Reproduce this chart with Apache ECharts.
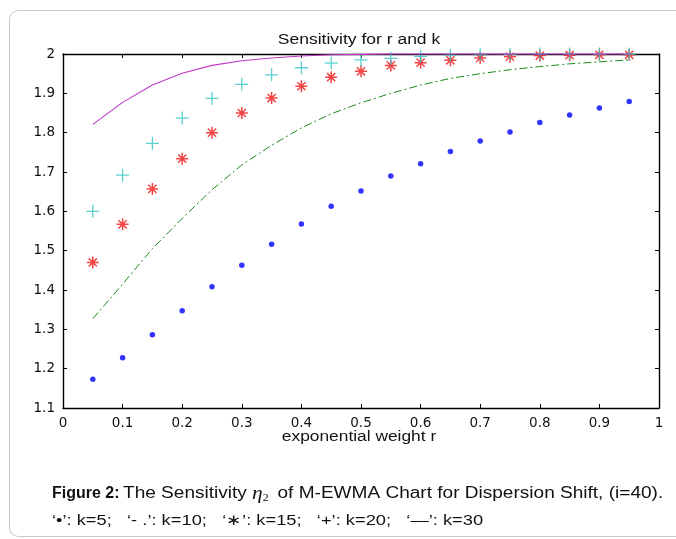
<!DOCTYPE html>
<html>
<head>
<meta charset="utf-8">
<script src="https://cdn.jsdelivr.net/npm/echarts@6/dist/echarts.min.js"></script>
<style>
  html, body { margin: 0; padding: 0; background: #ffffff; }
  #chart { width: 676px; height: 539px; }
</style>
</head>
<body>
<div id="chart"></div>
<script>
// exponential weight r
const rValues = [0.05, 0.10, 0.15, 0.20, 0.25, 0.30, 0.35, 0.40, 0.45, 0.50,
                 0.55, 0.60, 0.65, 0.70, 0.75, 0.80, 0.85, 0.90, 0.95];

// sensitivity eta_2 for each window size k
const sensK5  = [1.173, 1.228, 1.286, 1.347, 1.408, 1.463, 1.516, 1.568, 1.613, 1.652,
                 1.690, 1.721, 1.752, 1.779, 1.802, 1.826, 1.845, 1.863, 1.879];
const sensK10 = [1.327, 1.415, 1.505, 1.582, 1.655, 1.718, 1.768, 1.812, 1.848, 1.876,
                 1.900, 1.921, 1.938, 1.950, 1.960, 1.968, 1.975, 1.980, 1.985];
const sensK15 = [1.470, 1.567, 1.657, 1.734, 1.800, 1.850, 1.888, 1.918, 1.941, 1.956,
                 1.971, 1.978, 1.984, 1.990, 1.993, 1.996, 1.997, 1.998, 1.998];
const sensK20 = [1.600, 1.692, 1.773, 1.837, 1.887, 1.923, 1.947, 1.965, 1.977, 1.985,
                 1.989, 1.994, 1.997, 1.998, 1.999, 2.000, 2.000, 2.000, 2.000];
const sensK30 = [1.821, 1.877, 1.921, 1.951, 1.971, 1.983, 1.990, 1.995, 1.998, 1.999,
                 2.000, 2.000, 2.000, 2.000, 2.000, 2.000, 2.000, 2.000, 2.000];

// axis ranges / tick steps
const xRange = [0, 1, 0.1];
const yRange = [1.1, 2, 0.1];

// texts
const titleText = 'Sensitivity for r and k';
const xAxisTitle = 'exponential weight r';
const captionLead = 'Figure 2:';
const captionBody = 'The Sensitivity {eta|η}{sub|2} of M-EWMA Chart for Dispersion Shift, (i=40).';
const captionKey = '‘•’: k=5;   ‘- .’: k=10;   ‘∗’: k=15;   ‘+’: k=20;   ‘—’: k=30';

const pairs = ys => rValues.map((r, i) => [r, ys[i]]);

const FONT = 'Liberation Sans, Arial, sans-serif';
const TICK_FONT = 'DejaVu Sans, sans-serif';
const SERIF = 'Liberation Serif, DejaVu Serif, serif';
const ASTERISK = 'path://M5,0L5,10M0,5L10,5M1.6,1.6L8.4,8.4M1.6,8.4L8.4,1.6';
const PLUS = 'path://M5,0L5,10M0,5L10,5';

const fmtTick = v => String(Math.round(v * 10) / 10);

const axisBase = {
  type: 'value',
  splitLine: { show: false },
  axisLine: { show: true, onZero: false, lineStyle: { color: '#000', width: 1.4 } },
  axisTick: { show: true, inside: true, length: 4, lineStyle: { color: '#000', width: 1 } },
};

const chart = echarts.init(document.getElementById('chart'), null, { renderer: 'canvas' });

chart.setOption({
  animation: false,
  backgroundColor: '#ffffff',
  grid: { left: 63, right: 17, top: 54, bottom: 131 },
  xAxis: [
    Object.assign({}, axisBase, {
      position: 'bottom', min: xRange[0], max: xRange[1], interval: xRange[2],
      axisLabel: { show: true, margin: 8, fontFamily: TICK_FONT, fontSize: 13.5, color: '#111', formatter: fmtTick }
    }),
    Object.assign({}, axisBase, {
      position: 'top', min: xRange[0], max: xRange[1], interval: xRange[2],
      axisLabel: { show: false }
    })
  ],
  yAxis: [
    Object.assign({}, axisBase, {
      position: 'left', min: yRange[0], max: yRange[1], interval: yRange[2],
      axisLabel: { show: true, margin: 8, fontFamily: TICK_FONT, fontSize: 13.5, color: '#111', formatter: fmtTick }
    }),
    Object.assign({}, axisBase, {
      position: 'right', min: yRange[0], max: yRange[1], interval: yRange[2],
      axisLabel: { show: false }
    })
  ],
  series: [
    {
      name: 'k=5', type: 'scatter', data: pairs(sensK5), clip: false,
      symbol: 'circle', symbolSize: 5.5,
      itemStyle: { color: '#0000ff' }
    },
    {
      name: 'k=10', type: 'line', data: pairs(sensK10), clip: false,
      showSymbol: false, smooth: false,
      lineStyle: { color: '#1c8a1c', width: 1, type: [8, 3, 2, 3] }
    },
    {
      name: 'k=15', type: 'scatter', data: pairs(sensK15), clip: false,
      symbol: ASTERISK, symbolSize: 12,
      itemStyle: { color: 'none', borderColor: '#f41414', borderWidth: 1.5 }
    },
    {
      name: 'k=20', type: 'scatter', data: pairs(sensK20), clip: false,
      symbol: PLUS, symbolSize: 13,
      itemStyle: { color: 'none', borderColor: '#33c4c4', borderWidth: 1.3 }
    },
    {
      name: 'k=30', type: 'line', data: pairs(sensK30), clip: false,
      showSymbol: false, smooth: false,
      lineStyle: { color: '#c038c8', width: 1.1 }
    }
  ],
  graphic: [
    {
      type: 'rect', silent: true, z: -10,
      shape: { x: 9.5, y: 10.5, width: 700, height: 526, r: 9 },
      style: { fill: 'none', stroke: '#c8c8c8', lineWidth: 1 }
    },
    {
      type: 'text', x: 359, y: 40, scaleX: 1.25, silent: true,
      style: { text: titleText, fontFamily: FONT, fontSize: 14, fill: '#111', align: 'center', verticalAlign: 'middle' }
    },
    {
      type: 'text', x: 359, y: 437, scaleX: 1.24, silent: true,
      style: { text: xAxisTitle, fontFamily: FONT, fontSize: 14, fill: '#111', align: 'center', verticalAlign: 'middle' }
    },
    {
      type: 'text', x: 52, y: 494, silent: true,
      style: { text: captionLead, fontFamily: FONT, fontSize: 16, fontWeight: 'bold', fill: '#111', align: 'left', verticalAlign: 'middle' }
    },
    {
      type: 'text', x: 123, y: 494, scaleX: 1.19, silent: true,
      style: {
        text: captionBody,
        fontFamily: FONT, fontSize: 16, fill: '#111', align: 'left', verticalAlign: 'middle',
        rich: {
          eta: { fontFamily: SERIF, fontStyle: 'italic', fontSize: 18, fill: '#111' },
          sub: { fontFamily: SERIF, fontSize: 10, fill: '#111', verticalAlign: 'bottom', padding: [8, 3, 0, 0] }
        }
      }
    },
    {
      type: 'text', x: 52, y: 521, scaleX: 1.22, silent: true,
      style: { text: captionKey, fontFamily: FONT, fontSize: 15, fill: '#111', align: 'left', verticalAlign: 'middle' }
    }
  ]
});
</script>
</body>
</html>
